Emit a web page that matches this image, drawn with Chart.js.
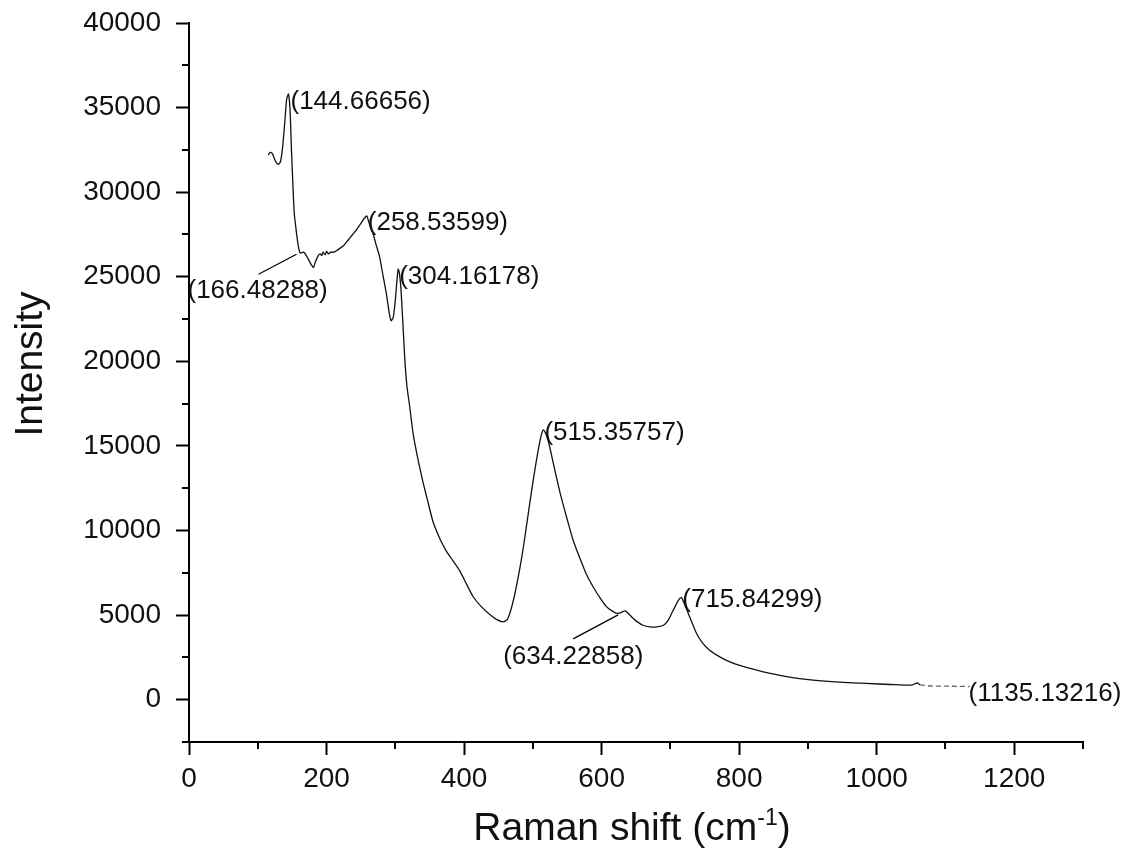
<!DOCTYPE html>
<html>
<head>
<meta charset="utf-8">
<title>Raman</title>
<script src="https://cdn.jsdelivr.net/npm/chart.js@4.4.1/dist/chart.umd.min.js"></script>
<style>
  html, body { margin: 0; padding: 0; background: #fff; }
  canvas { display: block; }
</style>
</head>
<body>
<canvas id="raman" width="1136" height="861"></canvas>
<script>
// Datos del espectro (desplazamiento Raman en cm-1, intensidad)
const ramanShift = [
  115, 118, 121, 124, 127, 130, 133, 136, 139, 142, 144.67, 147, 149, 151, 153, 156, 159, 162,
  166.48, 170, 174, 178, 181, 184, 188, 191, 193, 195, 198, 200, 203, 206, 210, 215, 220, 225,
  229, 234, 239, 244, 249, 253, 256, 258.54, 261, 264, 268, 272, 277, 282, 287, 291, 294, 297,
  300, 302, 304.16, 306, 308, 310, 312, 314, 317, 321, 326, 333, 340, 348, 355, 365, 374, 384,
  394, 404, 413, 425, 437, 447, 457, 463, 468, 473, 478, 483, 488, 493, 498, 503, 508, 512,
  515.36, 519, 523, 528, 534, 541, 549, 558, 568, 578, 588, 598, 607, 615, 622, 628, 634.23,
  640, 646, 652, 660, 670, 680, 690, 697, 703, 708, 712, 715.84, 719, 723, 730, 737, 745, 755,
  767, 780, 795, 816, 840, 865, 888, 915, 945, 985, 1020, 1050, 1056, 1059, 1063, 1080, 1100,
  1120, 1135.13
];
const intensity = [
  32200, 32350, 32300, 32000, 31750, 31650, 31800, 32600, 34000, 35500, 35800, 34800, 32500, 30500, 28800, 27700, 26800, 26400,
  26450, 26300, 26000, 25700, 25550, 25900, 26250, 26350, 26250, 26450, 26300, 26500, 26350, 26450, 26450, 26550, 26700, 26850,
  27050, 27300, 27550, 27800, 28100, 28350, 28500, 28600, 28300, 27900, 27500, 26900, 26200, 25100, 24000, 22900, 22400, 22600,
  23600, 24600, 25450, 25200, 24400, 23000, 21500, 20000, 18500, 17300, 15700, 14200, 12900, 11600, 10500, 9500, 8800, 8200,
  7600, 6800, 6100, 5500, 5050, 4750, 4600, 4750, 5300, 6100, 7100, 8200, 9500, 10900, 12300, 13600, 14800, 15600,
  15950, 15700, 15200, 14300, 13200, 12000, 10800, 9500, 8400, 7400, 6650, 6000, 5500, 5250, 5100, 5150, 5250,
  5050, 4800, 4600, 4400, 4300, 4300, 4400, 4700, 5200, 5600, 5900, 6050, 5800, 5400, 4700, 4000, 3450, 3000,
  2650, 2350, 2100, 1850, 1600, 1400, 1250, 1130, 1040, 960, 900, 860, 950, 1000, 880, 810, 800,
  790, 780
];

// Marcas de los ejes
const xTicks = [0, 200, 400, 600, 800, 1000, 1200];
const yTicks = [0, 5000, 10000, 15000, 20000, 25000, 30000, 35000, 40000];

// Picos marcados en el gráfico
const peakLabels = ['(144.66656)', '(166.48288)', '(258.53599)', '(304.16178)', '(515.35757)', '(634.22858)', '(715.84299)', '(1135.13216)'];
const peakShift = [144.66656, 166.48288, 258.53599, 304.16178, 515.35757, 634.22858, 715.84299, 1135.13216];
const peakIntensity = [35800, 26450, 28600, 25450, 15950, 5250, 6050, 780];

// Estilo de las etiquetas (desplazamiento en px respecto al pico y línea guía)
const labelOffsets = [[2, 8], [-116, 39], [1, 7], [1, 8], [1, 3], [-122, 46], [1, 2], [-1, 7]];
const leaderLines = [null, [-45, 22, -7, 2], null, null, null, [-52, 28, -7, 4], null, null];

const FONT = "'Liberation Sans', Arial, sans-serif";
const INK = '#111';

// Ticks menores, títulos de los ejes y etiquetas de picos
const axisExtras = {
  id: 'axisExtras',
  afterDraw(chart) {
    const { ctx, chartArea, scales: { x, y } } = chart;
    ctx.save();
    ctx.strokeStyle = '#000';
    ctx.lineWidth = 2;
    ctx.beginPath();
    for (let v = -2500; v <= 40000; v += 5000) {
      const py = Math.round(y.getPixelForValue(v));
      ctx.moveTo(chartArea.left - 7, py);
      ctx.lineTo(chartArea.left, py);
    }
    for (let v = 100; v <= 1300; v += 200) {
      const px = Math.round(x.getPixelForValue(v));
      ctx.moveTo(px, chartArea.bottom);
      ctx.lineTo(px, chartArea.bottom + 7);
    }
    ctx.stroke();

    ctx.fillStyle = INK;
    // Título del eje Y
    ctx.save();
    ctx.translate(42, 364);
    ctx.rotate(-Math.PI / 2);
    ctx.font = '39px ' + FONT;
    ctx.textAlign = 'center';
    ctx.textBaseline = 'alphabetic';
    ctx.fillText('Intensity', 0, 0);
    ctx.restore();

    // Título del eje X con superíndice
    const main = 'Raman shift (cm', sup = '-1', tail = ')';
    ctx.font = '39px ' + FONT;
    const wMain = ctx.measureText(main).width, wTail = ctx.measureText(tail).width;
    ctx.font = '23px ' + FONT;
    const wSup = ctx.measureText(sup).width;
    let tx = (chartArea.left + chartArea.right) / 2 - 4 - (wMain + wSup + wTail) / 2;
    const base = 840;
    ctx.textAlign = 'left';
    ctx.textBaseline = 'alphabetic';
    ctx.font = '39px ' + FONT;
    ctx.fillText(main, tx, base);
    tx += wMain;
    ctx.font = '23px ' + FONT;
    ctx.fillText(sup, tx, base - 15);
    tx += wSup;
    ctx.font = '39px ' + FONT;
    ctx.fillText(tail, tx, base);

    // Etiquetas de los picos
    ctx.font = '26px ' + FONT;
    ctx.textBaseline = 'middle';
    ctx.lineWidth = 1.2;
    peakLabels.forEach((txt, i) => {
      const px = x.getPixelForValue(peakShift[i]);
      const py = y.getPixelForValue(peakIntensity[i]);
      const [dx, dy] = labelOffsets[i];
      ctx.fillText(txt, px + dx, py + dy);
      const l = leaderLines[i];
      if (l) {
        ctx.beginPath();
        ctx.moveTo(px + l[0], py + l[1]);
        ctx.lineTo(px + l[2], py + l[3]);
        ctx.stroke();
      }
    });
    ctx.restore();
  }
};

new Chart(document.getElementById('raman'), {
  type: 'line',
  data: {
    datasets: [{
      data: ramanShift.map((v, i) => ({ x: v, y: intensity[i] })),
      borderColor: INK,
      borderWidth: 1.3,
      pointRadius: 0,
      tension: 0.2,
      fill: false,
      segment: {
        borderDash: ctx => ctx.p0.parsed.x >= 1063 ? [5, 3] : undefined,
        borderColor: ctx => ctx.p0.parsed.x >= 1063 ? '#666' : undefined
      }
    }]
  },
  options: {
    responsive: false,
    animation: false,
    layout: { padding: { top: 23, right: 53, left: 0, bottom: 0 } },
    plugins: { legend: { display: false }, tooltip: { enabled: false } },
    scales: {
      x: {
        type: 'linear',
        min: 0,
        max: 1300,
        afterFit: s => { s.height = 119; s.paddingLeft = 0; s.paddingRight = 0; },
        afterBuildTicks: s => { s.ticks = xTicks.map(v => ({ value: v })); },
        ticks: { color: INK, padding: 7, maxRotation: 0, autoSkip: false, callback: v => String(v), font: { size: 28, family: FONT } },
        grid: { drawOnChartArea: false, drawTicks: true, tickLength: 13, tickWidth: 2, tickColor: '#000' },
        border: { display: true, color: '#000', width: 2 }
      },
      y: {
        type: 'linear',
        min: -2500,
        max: 40000,
        afterFit: s => { s.width = 189; s.paddingTop = 0; s.paddingBottom = 0; },
        afterBuildTicks: s => { s.ticks = yTicks.map(v => ({ value: v })); },
        ticks: { color: INK, padding: 15, autoSkip: false, callback: v => String(v), font: { size: 28, family: FONT } },
        grid: { drawOnChartArea: false, drawTicks: true, tickLength: 13, tickWidth: 2, tickColor: '#000' },
        border: { display: true, color: '#000', width: 2 }
      }
    }
  },
  plugins: [axisExtras]
});
</script>
</body>
</html>
